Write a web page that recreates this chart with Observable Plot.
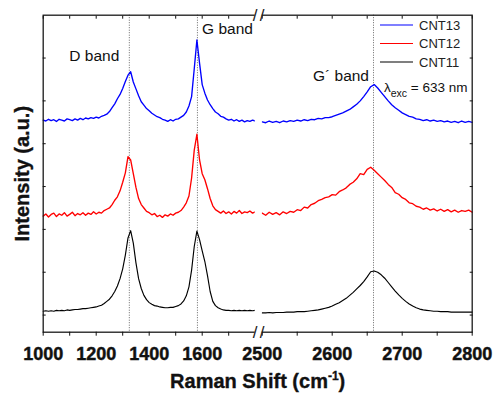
<!DOCTYPE html>
<html><head><meta charset="utf-8">
<script src="https://cdn.jsdelivr.net/npm/d3@7"></script>
<script src="https://cdn.jsdelivr.net/npm/@observablehq/plot@0.6"></script>
<style>
html,body{margin:0;padding:0;background:#fff;}
#wrap{position:relative;width:493px;height:393px;font-family:"Liberation Sans",Arial,sans-serif;}
#legend{position:absolute;left:376px;top:14px;}
</style></head><body><div id="wrap"></div>
<script>
// ---- data ----
const series = ["CNT13", "CNT12", "CNT11"];
const seriesColors = ["#0000ff", "#ff0000", "#000000"];
const leftDomain = [1000, 1800];
const rightDomain = [2500, 2800];
const leftWn = d3.range(1000, 1801, 10);
const rightWn = d3.range(2500, 2801, 5);

const cnt13Left = [
  4.55,4.53,4.57,4.54,4.56,4.52,4.57,4.55,4.53,4.58,
  4.56,4.54,4.58,4.55,4.59,4.56,4.60,4.58,4.61,4.59,
  4.62,4.60,4.64,4.66,4.69,4.75,4.84,4.93,5.05,5.15,
  5.29,5.45,5.60,5.68,5.44,5.28,5.12,4.98,4.90,4.82,
  4.77,4.71,4.67,4.63,4.61,4.57,4.55,4.52,4.56,4.53,
  4.57,4.58,4.62,4.66,4.74,4.88,5.10,5.75,6.42,5.88,
  5.38,5.18,5.02,4.91,4.82,4.74,4.70,4.64,4.62,4.58,
  4.55,4.57,4.53,4.56,4.52,4.55,4.51,4.54,4.52,4.55,
  4.53];
const cnt12Left = [
  2.31,2.36,2.29,2.35,2.38,2.30,2.36,2.33,2.39,2.31,
  2.35,2.40,2.32,2.37,2.34,2.39,2.33,2.38,2.35,2.41,
  2.36,2.40,2.38,2.44,2.47,2.50,2.58,2.68,2.76,2.90,
  3.10,3.32,3.70,3.62,3.30,2.98,2.72,2.58,2.50,2.42,
  2.39,2.34,2.37,2.30,2.33,2.28,2.34,2.31,2.36,2.33,
  2.38,2.40,2.44,2.52,2.62,2.78,3.20,3.85,4.22,3.62,
  3.30,3.16,2.95,2.72,2.55,2.46,2.42,2.38,2.43,2.37,
  2.41,2.36,2.42,2.38,2.44,2.37,2.41,2.39,2.43,2.38,
  2.41];
const cnt11Left = [
  0.09,0.10,0.09,0.10,0.09,0.11,0.10,0.11,0.10,0.12,
  0.11,0.12,0.13,0.13,0.14,0.15,0.15,0.16,0.17,0.18,
  0.19,0.21,0.23,0.27,0.32,0.37,0.45,0.55,0.68,0.85,
  1.08,1.40,1.80,1.97,1.68,1.22,0.85,0.62,0.46,0.36,
  0.29,0.25,0.22,0.21,0.19,0.18,0.17,0.17,0.18,0.18,
  0.20,0.22,0.26,0.33,0.45,0.66,1.05,1.60,1.96,1.76,
  1.50,1.25,0.92,0.55,0.32,0.22,0.17,0.14,0.12,0.11,
  0.11,0.10,0.11,0.10,0.11,0.10,0.11,0.10,0.11,0.10,
  0.11];
const cnt13Right = [
  4.51,4.49,4.53,4.50,4.52,4.49,4.53,4.51,4.54,4.52,
  4.55,4.53,4.56,4.54,4.57,4.56,4.59,4.58,4.61,4.61,
  4.63,4.66,4.69,4.72,4.76,4.80,4.86,4.92,5.00,5.10,
  5.21,5.33,5.38,5.30,5.20,5.10,5.00,4.91,4.84,4.78,
  4.72,4.68,4.64,4.62,4.58,4.57,4.54,4.56,4.53,4.55,
  4.52,4.54,4.51,4.53,4.50,4.52,4.49,4.53,4.50,4.52,
  4.50];
const cnt12Right = [
  2.38,2.33,2.40,2.35,2.39,2.34,2.41,2.37,2.42,2.40,
  2.46,2.44,2.52,2.50,2.58,2.61,2.67,2.70,2.74,2.76,
  2.81,2.80,2.88,2.92,2.97,3.05,3.10,3.18,3.30,3.28,
  3.40,3.45,3.38,3.30,3.22,3.14,3.05,2.98,2.86,2.82,
  2.74,2.70,2.62,2.60,2.54,2.52,2.47,2.50,2.45,2.48,
  2.43,2.47,2.42,2.46,2.41,2.45,2.40,2.44,2.42,2.45,
  2.40];
const cnt11Right = [
  0.05,0.05,0.06,0.05,0.06,0.06,0.06,0.07,0.07,0.07,
  0.08,0.08,0.08,0.09,0.10,0.11,0.12,0.14,0.16,0.18,
  0.21,0.25,0.29,0.34,0.39,0.46,0.53,0.61,0.69,0.78,
  0.89,1.01,1.03,1.00,0.94,0.86,0.76,0.66,0.56,0.47,
  0.39,0.32,0.26,0.21,0.17,0.14,0.12,0.11,0.10,0.09,
  0.09,0.08,0.08,0.08,0.07,0.07,0.07,0.07,0.07,0.07,
  0.07];

const bandNames = ["D band", "G band", "G\u00b4 band"];
const bandPos = [1325, 1582, 2659];
const excLabel = "\u03bbexc = 633 nm";
const xTicks = [1000,1100,1200,1300,1400,1500,1600,1700,2500,2550,2600,2650,2700,2750,2800];
const xTickLabels = [1000,1200,1400,1600,2500,2600,2700,2800];
const yTicks = [0,1,2,3,4,5,6];
const xLabel = "Raman Shift (cm-1)";
const yLabel = "Intensity (a.u.)";

// ---- build table ----
const spectra = {
  CNT13: [cnt13Left, cnt13Right],
  CNT12: [cnt12Left, cnt12Right],
  CNT11: [cnt11Left, cnt11Right]
};
const rows = [];
for (const s of series) {
  const [L, R] = spectra[s];
  leftWn.forEach((w, i) => rows.push({series: s, seg: s + "L", wn: w, v: L[i]}));
  rightWn.forEach((w, i) => rows.push({series: s, seg: s + "R", wn: w, v: R[i]}));
}
const bands = bandNames.map((name, i) => ({name, pos: bandPos[i]}));
const breakX = [(leftDomain[1] + rightDomain[0]) / 2];
const FONT = '"Liberation Sans", Arial, sans-serif';
const slash = (anchor, dx) => Plot.text(breakX, {x: d => d, text: () => "/", frameAnchor: anchor,
  lineAnchor: "middle", textAnchor: "middle", dx, fontSize: 17, fill: "#1a1a1a"});

const chart = Plot.plot({
  width: 493, height: 393,
  marginLeft: 42.7, marginRight: 21.3, marginTop: 14.7, marginBottom: 61.3,
  style: {fontFamily: FONT, background: "white", color: "#111"},
  x: {type: "linear", domain: [leftDomain[0], leftDomain[1], rightDomain[0], rightDomain[1]],
      range: [42.7, 254.7, 261.7, 471.7]},
  y: {domain: [-0.4, 7]},
  color: {domain: series, range: seriesColors},
  marks: [
    Plot.ruleX(bands, {x: "pos", stroke: "#666", strokeWidth: 1, strokeDasharray: "1,1.5"}),
    Plot.line(rows.filter(d => d.series !== "CNT11"), {x: "wn", y: "v", z: "seg", stroke: "series", strokeWidth: 1.35}),
    Plot.line(rows.filter(d => d.series === "CNT11"), {x: "wn", y: "v", z: "seg", stroke: "series", strokeWidth: 1.15}),
    Plot.frame({stroke: "#1a1a1a", strokeWidth: 1.3}),
    Plot.axisX({anchor: "bottom", ticks: xTicks, tickSize: 4, tickPadding: 11,
      tickFormat: d => xTickLabels.includes(d) ? String(d) : "",
      fontSize: 18, fontWeight: "bold", label: null}),
    Plot.axisX({anchor: "top", ticks: xTicks, tickSize: -3, tickFormat: () => "", label: null}),
    Plot.axisY({anchor: "left", ticks: yTicks, tickSize: -3, tickFormat: () => "", label: null}),
    Plot.axisY({anchor: "right", ticks: yTicks, tickSize: -3, tickFormat: () => "", label: null}),
    // axis break
    Plot.rect(breakX, {x1: leftDomain[1], x2: rightDomain[0], fill: "white", insetTop: -3, insetBottom: -3}),
    slash("bottom", -3.5), slash("bottom", 3.5), slash("top", -3.5), slash("top", 3.5),
    // band annotations
    Plot.text(bands.slice(0, 1), {x: "pos", text: "name", frameAnchor: "top", lineAnchor: "middle", dy: 41.3, dx: -10, textAnchor: "end", fontSize: 15.5}),
    Plot.text(bands.slice(1, 2), {x: "pos", text: "name", frameAnchor: "top", lineAnchor: "middle", dy: 14.3, dx: 4.6, textAnchor: "start", fontSize: 15.5}),
    Plot.text(bands.slice(2, 3), {x: "pos", text: "name", frameAnchor: "top", lineAnchor: "middle", dy: 61.3, dx: -4.5, textAnchor: "end", fontSize: 15.5}),
    Plot.text(bands.slice(2, 3), {x: "pos", text: () => excLabel, frameAnchor: "top", lineAnchor: "middle", dy: 72.3, dx: 10.5, textAnchor: "start", fontSize: 13.5}),
    // axis titles
    Plot.text([yLabel], {text: d => d, frameAnchor: "left", textAnchor: "middle", lineAnchor: "middle", rotate: -90, dx: -20.7, fontSize: 20, fontWeight: "bold"}),
    Plot.text([xLabel], {text: d => d, frameAnchor: "bottom", textAnchor: "middle", lineAnchor: "middle", dy: 49.5, fontSize: 20, fontWeight: "bold"})
  ]
});

// rich text: superscript / subscript, heavier bold labels
const labelStrings = xTickLabels.map(String);
d3.select(chart).selectAll("text").each(function () {
  const t = d3.select(this);
  const s = this.textContent;
  if (s === xLabel) {
    t.text(null);
    t.append("tspan").text("Raman Shift (cm");
    t.append("tspan").attr("font-size", 12).attr("dy", -8).text("-1");
    t.append("tspan").attr("dy", 8).text(")");
    t.attr("stroke", "#111").attr("stroke-width", 0.35);
  } else if (s === yLabel) {
    t.attr("stroke", "#111").attr("stroke-width", 0.35);
  } else if (s === excLabel) {
    t.text(null);
    t.append("tspan").text("\u03bb");
    t.append("tspan").attr("font-size", 10.5).attr("dy", 5).text("exc");
    t.append("tspan").attr("dy", -5).text(" = 633 nm");
  } else if (labelStrings.includes(s)) {
    t.attr("stroke", "#111").attr("stroke-width", 0.45);
  }
});

const wrap = document.getElementById("wrap");
wrap.appendChild(chart);

// legend (inside the plot area, top-right)
const leg = d3.select(wrap).append("svg").attr("id", "legend")
  .attr("width", 110).attr("height", 60)
  .style("font-family", FONT);
series.forEach((s, i) => {
  const y = 11 + 18.5 * i;
  leg.append("line").attr("x1", 4).attr("x2", 37).attr("y1", y).attr("y2", y)
    .attr("stroke", seriesColors[i]).attr("stroke-width", 1.1);
  leg.append("text").attr("x", 43).attr("y", y).attr("dy", "0.35em")
    .attr("font-size", 13).attr("fill", "#222").text(s);
});
</script></body></html>
